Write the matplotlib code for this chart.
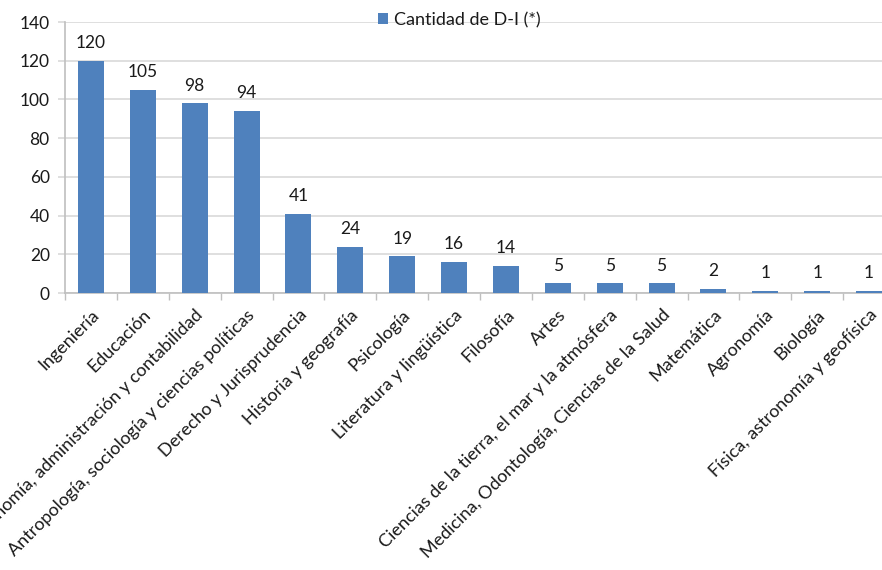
import matplotlib
matplotlib.use('Agg')
import matplotlib.pyplot as plt
import numpy as np

categories = [
    'Ingeniería',
    'Educación',
    'Economía, administración y contabilidad',
    'Antropología, sociología y ciencias políticas',
    'Derecho y Jurisprudencia',
    'Historia y geografía',
    'Psicología',
    'Literatura y lingüística',
    'Filosofía',
    'Artes',
    'Ciencias de la tierra, el mar y la atmósfera',
    'Medicina, Odontología, Ciencias de la Salud',
    'Matemática',
    'Agronomía',
    'Biología',
    'Física, astronomía y geofísica',
]
counts = [120, 105, 98, 94, 41, 24, 19, 16, 14, 5, 5, 5, 2, 1, 1, 1]
series_label = 'Cantidad de D-I (*)'

plt.rcParams['font.family'] = ['Lato', 'DejaVu Sans']

fig = plt.figure(figsize=(8.82, 5.70), dpi=100)
# axes run past the right edge, like the cropped original
ax = fig.add_axes([65 / 882, 1 - 293 / 570, 830 / 882, 271 / 570])

bar_color = '#4F81BD'
grid_color = '#D9D9D9'
text_color = '#1A1A1A'

x = np.arange(len(categories))
bars = ax.bar(x, counts, 0.5, color=bar_color, label=series_label, zorder=3)

for bar, val in zip(bars, counts):
    ax.text(bar.get_x() + bar.get_width() / 2, bar.get_height() + 5, str(val),
            ha='center', va='bottom', fontsize=12.5, color=text_color)

ax.set_xlim(-0.5, len(categories) - 0.5)
ax.set_ylim(0, 140)
ax.set_yticks(range(0, 141, 20))
ax.yaxis.grid(True, color=grid_color, linewidth=1.2, zorder=0)
ax.set_axisbelow(True)

ax.set_xticks(x)
ax.set_xticklabels(categories, rotation=45, ha='right', rotation_mode='anchor',
                   fontsize=13, color=text_color)
ax.tick_params(axis='x', length=0, pad=10)
ax.set_xticks(np.arange(-0.5, len(categories), 1), minor=True)
ax.tick_params(axis='x', which='minor', length=5, color='#BFBFBF', width=1)
ax.tick_params(axis='y', length=5, color=grid_color, width=1.2,
               labelsize=12.5, labelcolor=text_color, pad=6)

for side in ['top', 'right']:
    ax.spines[side].set_visible(False)
ax.spines['left'].set_color('#BFBFBF')
ax.spines['bottom'].set_color('#BFBFBF')
ax.spines['left'].set_linewidth(1.2)
ax.spines['bottom'].set_linewidth(1.2)

fig.legend(loc='center', bbox_to_anchor=(459 / 882, 1 - 20 / 570), frameon=False,
           handlelength=0.6, handleheight=0.6, handletextpad=0.3,
           prop={'size': 13}, labelcolor=text_color)

fig.savefig('out.png', dpi=100)
